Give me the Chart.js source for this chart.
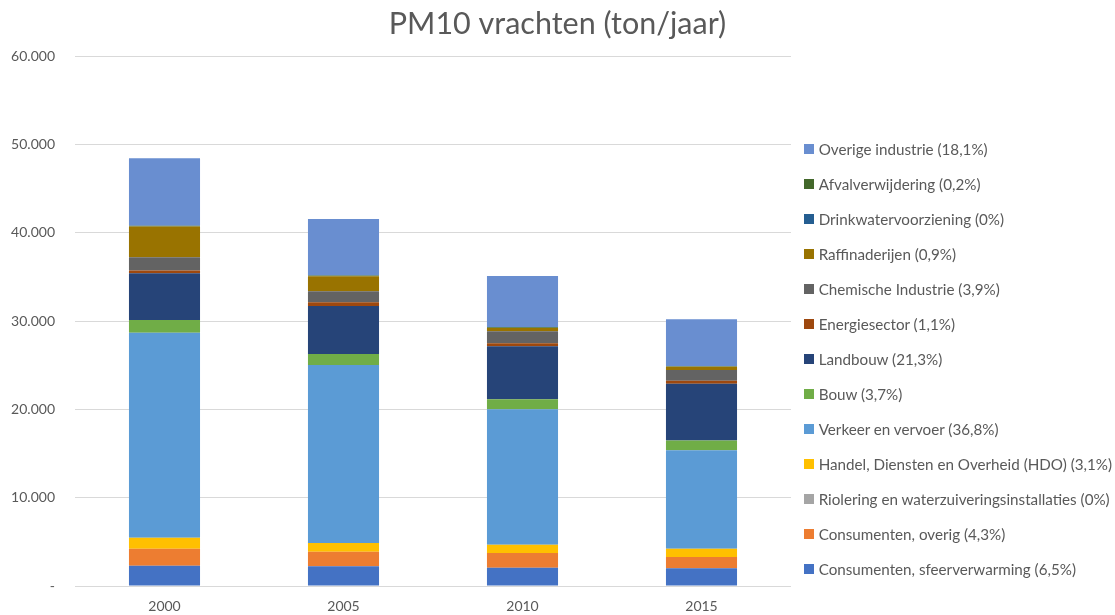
<!DOCTYPE html>
<html>
<head>
<meta charset="utf-8">
<script src="https://cdn.jsdelivr.net/npm/chart.js@4.4.1/dist/chart.umd.min.js"></script>
<style>
  body { margin: 0; background: #fff; }
  #wrap { position: relative; width: 1115px; height: 615px; }
  #legend { position: absolute; left: 804px; top: 131.5px; margin: 0; padding: 0; list-style: none;
            font-family: Lato, sans-serif; font-size: 15.2px; color: #595959; }
  #legend li { height: 35px; display: flex; align-items: center; white-space: nowrap; }
  #legend span.box { width: 10px; height: 10px; margin-right: 4.7px; flex: none; }
</style>
</head>
<body>
<div id="wrap">
  <canvas id="pm10Chart"></canvas>
  <ul id="legend"></ul>
</div>
<script>
// --- data (ton/jaar), gestapeld van onder naar boven ---
const jaren = ['2000', '2005', '2010', '2015'];

const sfeerverwarming = [2300, 2230, 2070, 2020];
const consumentenOverig = [1925, 1650, 1665, 1250];
const riolering = [0, 0, 0, 0];
const hdo = [1245, 985, 940, 940];
const verkeer = [23210, 20150, 15330, 11150];
const bouw = [1440, 1245, 1130, 1110];
const landbouw = [5285, 5435, 6000, 6440];
const energie = [300, 420, 340, 340];
const chemie = [1515, 1245, 1360, 1210];
const raffinaderijen = [3465, 1700, 375, 360];
const drinkwater = [0, 0, 0, 0];
const afval = [90, 80, 70, 60];
const overigeIndustrie = [7655, 6405, 5815, 5330];

const labels = [
  'Consumenten, sfeerverwarming (6,5%)',
  'Consumenten, overig (4,3%)',
  'Riolering en waterzuiveringsinstallaties (0%)',
  'Handel, Diensten en Overheid (HDO) (3,1%)',
  'Verkeer en vervoer (36,8%)',
  'Bouw (3,7%)',
  'Landbouw (21,3%)',
  'Energiesector (1,1%)',
  'Chemische Industrie (3,9%)',
  'Raffinaderijen (0,9%)',
  'Drinkwatervoorziening (0%)',
  'Afvalverwijdering (0,2%)',
  'Overige industrie (18,1%)'
];
const series = [sfeerverwarming, consumentenOverig, riolering, hdo, verkeer, bouw,
  landbouw, energie, chemie, raffinaderijen, drinkwater, afval, overigeIndustrie];
const kleuren = ['#4472C4', '#ED7D31', '#A5A5A5', '#FFC000', '#5B9BD5', '#70AD47',
  '#264478', '#9E480E', '#636363', '#997300', '#255E91', '#43682B', '#698ED0'];

const yMax = 60000;
const yStap = 10000;

function formatTon(v) {
  if (v === 0) return '-';
  return String(v).replace(/\B(?=(\d{3})+(?!\d))/g, '.');
}

const tekstKleur = '#595959';
const font = 'Lato';

const datasets = series.map((data, i) => ({
  label: labels[i],
  data: data,
  backgroundColor: kleuren[i],
  borderWidth: 0,
  categoryPercentage: 1,
  barPercentage: 0.397
}));

const ctx = document.getElementById('pm10Chart').getContext('2d');
const chart = new Chart(ctx, {
  type: 'bar',
  data: { labels: jaren, datasets: datasets },
  options: {
    responsive: true,
    maintainAspectRatio: false,
    animation: false,
    layout: { padding: 0 },
    scales: {
      x: {
        stacked: true,
        afterFit: (scale) => { scale.height = 29; },
        grid: { display: false, drawTicks: false },
        border: { display: false },
        ticks: { color: tekstKleur, font: { family: font, size: 14 }, padding: 11.6 }
      },
      y: {
        stacked: true,
        min: 0,
        max: yMax,
        afterFit: (scale) => { scale.width = 75; },
        border: { display: false },
        grid: { color: '#D9D9D9', lineWidth: 1, drawTicks: false },
        ticks: {
          stepSize: yStap,
          padding: 20,
          color: tekstKleur,
          font: { family: font, size: 14 },
          callback: (v) => formatTon(v)
        }
      },
      // lege as rechts: ruimte voor de legenda, titel blijft over de volle breedte
      ruimte: {
        position: 'right',
        afterFit: (scale) => { scale.width = 324; },
        grid: { display: false, drawTicks: false },
        border: { display: false },
        ticks: { display: false }
      }
    },
    plugins: {
      legend: { display: false },
      tooltip: { enabled: false },
      title: {
        display: true,
        text: 'PM10 vrachten (ton/jaar)',
        color: tekstKleur,
        font: { family: font, size: 30.5, weight: 'normal' },
        padding: { top: 5.5, bottom: 13.9 }
      }
    }
  }
});

// legenda in omgekeerde volgorde (bovenste reeks eerst)
const legendEl = document.getElementById('legend');
chart.data.datasets.slice().reverse().forEach((ds) => {
  const li = document.createElement('li');
  const box = document.createElement('span');
  box.className = 'box';
  box.style.background = ds.backgroundColor;
  li.appendChild(box);
  li.appendChild(document.createTextNode(ds.label));
  legendEl.appendChild(li);
});
</script>
</body>
</html>
